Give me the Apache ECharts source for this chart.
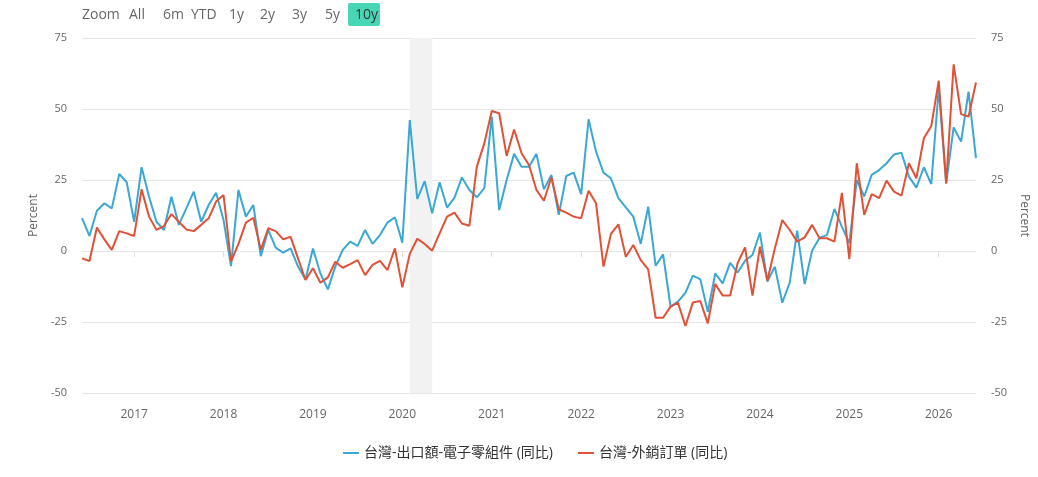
<!DOCTYPE html>
<html>
<head>
<meta charset="utf-8">
<script src="https://cdn.jsdelivr.net/npm/echarts@6/dist/echarts.min.js"></script>
<style>
html,body{margin:0;padding:0;background:#fff;}
#c{width:1038px;height:477px;}
</style>
</head>
<body>
<div id="c"></div>
<script>
// Monthly categories: 2016-06 .. 2026-06
var months = [];
(function(){
  var y = 2016, m = 6;
  for (var i = 0; i < 121; i++) {
    months.push(y + '-' + (m < 10 ? '0' + m : m));
    m++; if (m > 12) { m = 1; y++; }
  }
})();

var seriesNames = ['台灣-出口額-電子零組件 (同比)', '台灣-外銷訂單 (同比)'];

var exportsElec = [
 11.6, 5.3, 14.2, 16.8, 15.0, 27.1, 24.2,
 10.3, 29.5, 19.1, 10.3, 7.4, 19.1, 9.2, 15.0, 20.9, 10.3, 16.2, 20.5,
 10.9, -5.3, 21.5, 12.1, 16.2, -1.8, 7.4, 1.2, -0.6, 0.9, -5.5, -10.0,
 0.9, -7.9, -13.5, -5.5, 0.4, 3.3, 1.8, 7.4, 2.5, 5.6, 10.0, 11.9,
 2.9, 46.1, 18.3, 24.6, 13.3, 24.2, 15.3, 18.8, 25.9, 21.5, 18.9, 22.1,
 47.3, 14.4, 25.0, 34.2, 29.7, 29.7, 34.2, 21.7, 26.8, 12.7, 26.4, 27.6,
 20.0, 46.4, 35.0, 27.6, 25.6, 18.6, 15.4, 12.1, 2.5, 15.6, -5.2, -1.2,
 -19.6, -17.8, -14.7, -8.7, -10.0, -21.4, -7.9, -11.4, -4.2, -7.6, -3.4, -1.4,
 6.5, -10.8, -5.5, -18.2, -11.1, 7.2, -11.7, 0.1, 4.7, 5.6, 14.8, 8.6,
 2.7, 25.0, 19.2, 26.8, 28.5, 30.9, 34.0, 34.6, 26.2, 22.3, 29.5, 23.6,
 57.3, 23.8, 43.5, 38.5, 56.1, 32.7
];

var exportOrders = [
 -2.6, -3.5, 8.3, 4.1, 0.4, 7.0, 6.2,
 5.3, 21.7, 12.1, 7.4, 8.8, 13.0, 10.3, 7.6, 7.0, 9.2, 11.5, 17.4,
 19.7, -3.7, 2.5, 10.0, 11.7, 0.4, 8.0, 7.0, 4.1, 5.0, -2.6, -10.2,
 -6.1, -11.2, -9.3, -3.8, -5.9, -4.6, -3.2, -8.5, -4.9, -3.5, -6.7, 0.9,
 -12.8, -1.0, 4.3, 2.5, 0.1, 6.2, 12.1, 13.5, 9.7, 8.9, 29.7, 37.9,
 49.3, 48.5, 33.5, 42.8, 34.4, 30.3, 21.5, 17.7, 25.9, 14.7, 13.5, 12.1,
 11.5, 21.2, 16.8, -5.5, 6.0, 9.4, -2.0, 2.1, -3.2, -6.5, -23.5, -23.5,
 -19.6, -18.2, -26.4, -18.1, -17.6, -25.5, -11.6, -15.7, -15.7, -4.3, 1.3, -15.7,
 1.5, -10.4, 0.9, 10.9, 7.4, 3.3, 4.8, 9.2, 4.5, 4.5, 3.3, 20.5,
 -2.9, 30.9, 12.7, 20.0, 18.6, 24.8, 20.9, 19.5, 30.9, 25.6, 39.7, 44.0,
 60.0, 23.8, 65.7, 48.2, 47.3, 59.3
];

var yTicks = { min: -50, max: 75, interval: 25 };
var bandRange = ['2020-02', '2020-05'];
var rangeButtons = ['All', '6m', 'YTD', '1y', '2y', '3y', '5y', '10y'];
var selectedButton = '10y';

var FONT = '"Open Sans", "Noto Sans CJK TC", sans-serif';
var chart = echarts.init(document.getElementById('c'), null, { renderer: 'canvas' });

// range selector graphics
var btnX = [129, 163, 191, 229, 260, 292, 325, 355];
var graphics = [{
  type: 'text', x: 82, y: 15,
  style: { text: 'Zoom', fill: '#666', font: '14px ' + FONT, verticalAlign: 'middle' }
}];
rangeButtons.forEach(function(b, i){
  if (b === selectedButton) {
    graphics.push({
      type: 'rect', shape: { x: 348, y: 3, width: 32, height: 23, r: 2 },
      style: { fill: '#47d7b7' }
    });
  }
  graphics.push({
    type: 'text', x: btnX[i], y: 15,
    style: { text: b, fill: b === selectedButton ? '#333' : '#666', font: '14px ' + FONT, verticalAlign: 'middle' }
  });
});

function isJan(idx, val) { return /-01$/.test(val); }

chart.setOption({
  animation: false,
  backgroundColor: '#fff',
  textStyle: { fontFamily: FONT },
  graphic: graphics,
  grid: { left: 82, right: 57, top: 38, bottom: 84, containLabel: false },
  legend: {
    bottom: 12, left: 338,
    icon: 'rect', itemWidth: 16, itemHeight: 2, itemGap: 25,
    textStyle: { color: '#333', fontSize: 14, fontFamily: FONT },
    data: seriesNames
  },
  xAxis: {
    type: 'category', boundaryGap: false, data: months,
    axisLine: { show: true, lineStyle: { color: '#e6e6e6' } },
    axisTick: { show: true, interval: isJan, length: 6, lineStyle: { color: '#e0e0e0' } },
    axisLabel: {
      interval: isJan, color: '#666', fontSize: 12, margin: 16,
      formatter: function(v){ return v.slice(0, 4); }
    },
    splitLine: { show: false }
  },
  yAxis: [{
    type: 'value', min: yTicks.min, max: yTicks.max, interval: yTicks.interval,
    name: 'Percent', nameLocation: 'middle', nameGap: 42, nameRotate: 90,
    nameTextStyle: { color: '#666', fontSize: 12 },
    axisLine: { show: false }, axisTick: { show: false },
    axisLabel: { color: '#666', fontSize: 11, margin: 15 },
    splitLine: { lineStyle: { color: '#e6e6e6' } }
  }, {
    type: 'value', min: yTicks.min, max: yTicks.max, interval: yTicks.interval,
    position: 'right',
    name: 'Percent', nameLocation: 'middle', nameGap: 42, nameRotate: -90,
    nameTextStyle: { color: '#666', fontSize: 12 },
    axisLine: { show: false }, axisTick: { show: false },
    axisLabel: { color: '#666', fontSize: 11, margin: 15 },
    splitLine: { show: false }
  }],
  series: [{
    name: seriesNames[0], type: 'line', data: exportsElec,
    symbol: 'none', color: '#3aa8d2',
    lineStyle: { width: 2, color: '#3aa8d2' },
    markArea: {
      silent: true,
      itemStyle: { color: '#f2f2f2' },
      data: [[{ xAxis: bandRange[0] }, { xAxis: bandRange[1] }]]
    },
    z: 2
  }, {
    name: seriesNames[1], type: 'line', data: exportOrders,
    symbol: 'none', color: '#df5237',
    lineStyle: { width: 2, color: '#df5237' },
    z: 3
  }]
});
</script>
</body>
</html>
